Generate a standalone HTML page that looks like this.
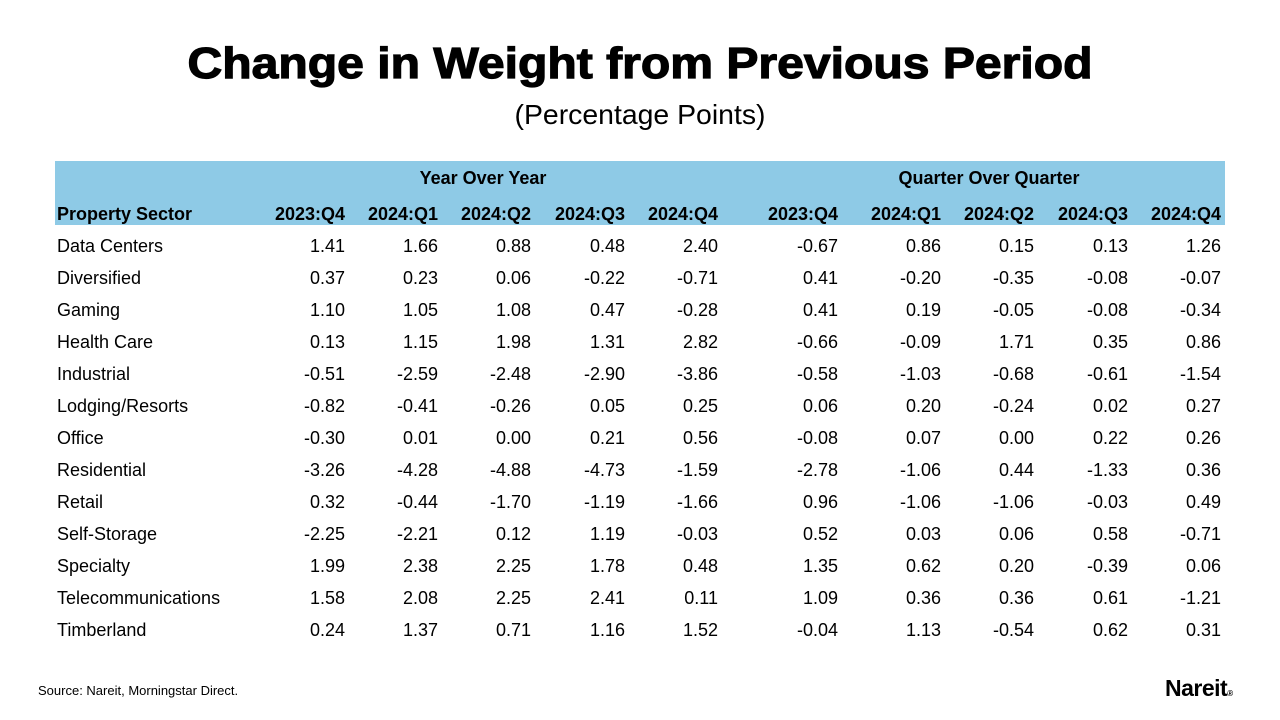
<!DOCTYPE html>
<html><head><meta charset="utf-8"><style>
body{margin:0;width:1280px;height:720px;background:#fff;position:relative;overflow:hidden;font-family:"Liberation Sans",Arial,sans-serif;color:#000}
.a{position:absolute;white-space:nowrap}
.r{text-align:right}
</style></head><body>
<svg class="a" style="left:0;top:0" width="1280" height="140">
<text x="640" y="78" text-anchor="middle" font-family="Liberation Sans" font-weight="bold" font-size="44" textLength="905" lengthAdjust="spacingAndGlyphs" stroke="#000" stroke-width="1.2">Change in Weight from Previous Period</text>
<text x="640" y="124" text-anchor="middle" font-family="Liberation Sans" font-size="28" textLength="251" lengthAdjust="spacingAndGlyphs">(Percentage Points)</text>
</svg>
<div class="a" style="left:55px;top:161px;width:1170px;height:64px;background:#8ECAE6"></div>
<div class="a" style="left:383px;top:168px;width:200px;text-align:center;font-weight:bold;font-size:18px">Year Over Year</div>
<div class="a" style="left:839px;top:168px;width:300px;text-align:center;font-weight:bold;font-size:18px">Quarter Over Quarter</div>
<div class="a" style="left:57px;top:204px;font-weight:bold;font-size:18px">Property Sector</div>
<div id="tbl"></div>
<div class="a" style="left:38px;top:683px;font-size:13px">Source: Nareit, Morningstar Direct.</div>
<div class="a" style="left:1165px;top:675px;font-size:23px;font-weight:bold;letter-spacing:-0.5px">Nareit<span style="font-size:8px">®</span></div>
<script>
const periods=["2023:Q4","2024:Q1","2024:Q2","2024:Q3","2024:Q4","2023:Q4","2024:Q1","2024:Q2","2024:Q3","2024:Q4"];
const sectors=["Data Centers","Diversified","Gaming","Health Care","Industrial","Lodging/Resorts","Office","Residential","Retail","Self-Storage","Specialty","Telecommunications","Timberland"];
const yoy=[
[1.41,1.66,0.88,0.48,2.40],[0.37,0.23,0.06,-0.22,-0.71],[1.10,1.05,1.08,0.47,-0.28],[0.13,1.15,1.98,1.31,2.82],
[-0.51,-2.59,-2.48,-2.90,-3.86],[-0.82,-0.41,-0.26,0.05,0.25],[-0.30,0.01,0.00,0.21,0.56],[-3.26,-4.28,-4.88,-4.73,-1.59],
[0.32,-0.44,-1.70,-1.19,-1.66],[-2.25,-2.21,0.12,1.19,-0.03],[1.99,2.38,2.25,1.78,0.48],[1.58,2.08,2.25,2.41,0.11],[0.24,1.37,0.71,1.16,1.52]];
const qoq=[
[-0.67,0.86,0.15,0.13,1.26],[0.41,-0.20,-0.35,-0.08,-0.07],[0.41,0.19,-0.05,-0.08,-0.34],[-0.66,-0.09,1.71,0.35,0.86],
[-0.58,-1.03,-0.68,-0.61,-1.54],[0.06,0.20,-0.24,0.02,0.27],[-0.08,0.07,0.00,0.22,0.26],[-2.78,-1.06,0.44,-1.33,0.36],
[0.96,-1.06,-1.06,-0.03,0.49],[0.52,0.03,0.06,0.58,-0.71],[1.35,0.62,0.20,-0.39,0.06],[1.09,0.36,0.36,0.61,-1.21],[-0.04,1.13,-0.54,0.62,0.31]];
const colRight=[345,438,531,625,718,838,941,1034,1128,1221];
const t=document.getElementById('tbl');
periods.forEach((p,i)=>{
  const d=document.createElement('div');
  
  
  d.className='a r';
  d.style.cssText='left:'+(colRight[i]-100)+'px;width:100px;top:204px;font-weight:bold;font-size:18px';
  d.textContent=p;t.appendChild(d);
});
sectors.forEach((s,r)=>{
  const y=236+r*32;
  const n=document.createElement('div');
  
  
  n.className='a';n.style.cssText='left:57px;top:'+y+'px;font-size:18px';n.textContent=s;t.appendChild(n);
  const vals=yoy[r].concat(qoq[r]);
  vals.forEach((v,i)=>{
    const c=document.createElement('div');
    
    
    c.className='a r';
    c.style.cssText='left:'+(colRight[i]-100)+'px;width:100px;top:'+y+'px;font-size:18px';
    c.textContent=v.toFixed(2);t.appendChild(c);
  });
});
</script>
</body></html>
